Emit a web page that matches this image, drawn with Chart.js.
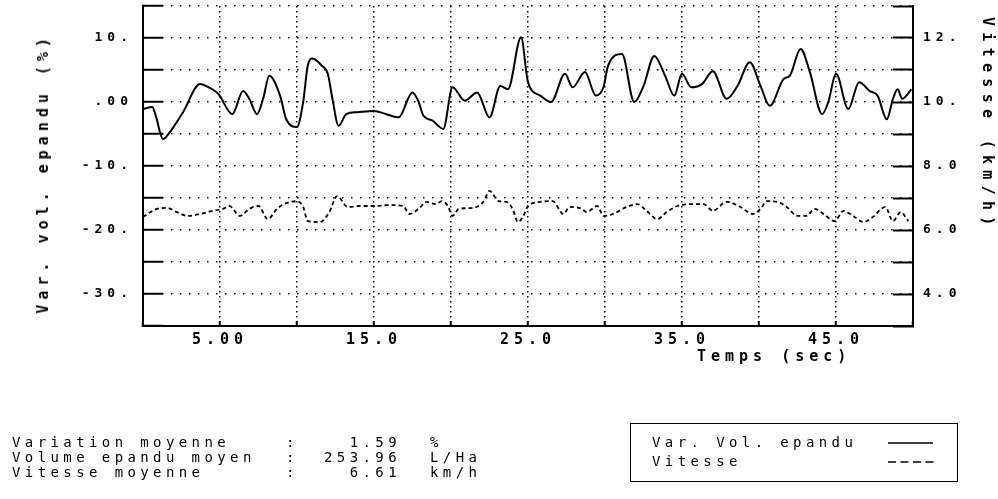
<!DOCTYPE html>
<html>
<head>
<meta charset="utf-8">
<script src="https://cdn.jsdelivr.net/npm/chart.js@4/dist/chart.umd.min.js"></script>
<style>
  html, body { margin: 0; padding: 0; background: #fff; }
  #wrap { position: relative; width: 998px; height: 499px; background: #fff; overflow: hidden; }
  #c { position: absolute; left: 0; top: 0; }
  .t { position: absolute; font-family: "DejaVu Sans Mono", monospace; color: #000; white-space: pre; }
  .stat { font-size: 14px; line-height: 15px; letter-spacing: 4.4px; }
  .ttl { font-size: 15px; font-weight: bold; line-height: 18px; letter-spacing: 5px; }
  #legend { position: absolute; left: 630px; top: 423px; width: 326px; height: 57px; border: 1.5px solid #000; }
</style>
</head>
<body>
<div id="wrap">
  <canvas id="c" width="998" height="499"></canvas>
  <div class="t ttl" style="left:697px; top:347px;">Temps (sec)</div>
  <div class="t ttl" style="left:979px; top:17px; writing-mode: vertical-rl; letter-spacing:6.3px;">Vitesse (km/h)</div>
  <div class="t ttl" style="left:34px; top:33px; writing-mode: vertical-rl; transform: rotate(180deg);">Var. vol. epandu (%)</div>

  <div class="t stat" style="left:12px; top:435px;">Variation moyenne</div>
  <div class="t stat" style="left:12px; top:450px;">Volume epandu moyen</div>
  <div class="t stat" style="left:12px; top:465px;">Vitesse moyenne</div>
  <div class="t stat" style="left:286px; top:435px;">:</div>
  <div class="t stat" style="left:286px; top:450px;">:</div>
  <div class="t stat" style="left:286px; top:465px;">:</div>
  <div class="t stat" style="left:300px; width:101px; text-align:right; top:435px;">1.59</div>
  <div class="t stat" style="left:300px; width:101px; text-align:right; top:450px;">253.96</div>
  <div class="t stat" style="left:300px; width:101px; text-align:right; top:465px;">6.61</div>
  <div class="t stat" style="left:430px; top:435px;">%</div>
  <div class="t stat" style="left:430px; top:450px;">L/Ha</div>
  <div class="t stat" style="left:430px; top:465px;">km/h</div>

  <div id="legend"></div>
  <div class="t stat" style="left:652px; top:435px;">Var. Vol. epandu</div>
  <div class="t stat" style="left:652px; top:454px;">Vitesse</div>
  <svg style="position:absolute; left:0; top:0;" width="998" height="499">
    <line x1="888" y1="443" x2="933" y2="443" stroke="#000" stroke-width="1.5"/>
    <line x1="888" y1="462" x2="934" y2="462" stroke="#000" stroke-width="1.5" stroke-dasharray="8,4.5"/>
  </svg>
</div>
<script>
// ---- data ----
const timeVar = [0,0.6,0.8,1.3,1.75,2.6,3.7,4.1,4.9,5.8,6.5,6.9,7.4,7.8,8.2,8.9,9.3,10.0,10.4,10.7,11.0,11.6,12.0,12.3,12.7,13.2,13.9,15.0,15.8,16.6,17.5,17.9,18.2,18.8,19.5,20.1,20.9,21.7,22.5,23.2,23.7,24.55,25.0,25.8,26.5,27.4,27.9,28.7,29.4,29.9,30.2,31.1,31.9,32.5,33.2,33.9,34.5,35.0,35.6,36.3,37.0,37.9,38.6,39.4,40.1,40.7,41.6,42.0,42.7,43.3,44.1,44.5,45.0,45.8,46.5,47.2,47.7,48.3,48.7,49.0,49.3,49.9];
const varVol = [-1.1,-0.8,-1.9,-5.8,-4.7,-1.6,2.8,2.5,1.25,-1.9,1.7,0.5,-1.9,0.5,4.1,1.0,-2.7,-3.9,0,5.7,6.8,5.7,4.4,0.5,-3.7,-1.9,-1.6,-1.4,-1.9,-2.4,1.5,0,-2.1,-2.9,-4.2,2.3,0.2,1.5,-2.4,2.5,2.0,10.1,3.1,1.0,0,4.4,2.3,4.7,1.0,2.3,5.7,7.5,0,2.5,7.2,4.1,1.0,4.4,2.3,2.8,4.8,0.5,2.5,6.2,2.5,-0.6,3.6,4.1,8.3,4.7,-1.9,0,4.4,-1.1,3.1,1.7,1.0,-2.7,0.5,2.0,0.5,2.0];

const timeVit = [0,0.9,1.55,2.2,2.9,3.7,4.5,5.2,5.6,6.3,6.9,7.5,8.1,8.7,9.3,10.0,10.4,10.7,11.5,12.1,12.6,13.3,14.1,15.0,16.0,16.9,17.3,17.9,18.4,19.0,19.4,19.8,20.1,20.5,21.4,22.1,22.5,23.1,23.6,24.0,24.35,24.7,25.0,25.8,26.6,27.3,27.7,28.5,28.8,29.5,29.9,30.5,31.4,32.1,32.7,33.4,34.0,34.7,35.7,36.4,37.0,37.9,38.8,39.6,40.1,40.5,41.2,41.8,42.5,43.1,43.6,44.2,44.9,45.5,46.1,46.8,47.4,48.2,48.7,49.2,49.7];
const vitesse = [6.41,6.66,6.69,6.56,6.44,6.5,6.6,6.66,6.75,6.44,6.66,6.75,6.34,6.66,6.84,6.9,6.72,6.28,6.25,6.56,7.06,6.72,6.75,6.75,6.78,6.75,6.5,6.66,6.88,6.81,6.9,6.75,6.44,6.66,6.69,6.88,7.22,6.9,6.88,6.66,6.25,6.44,6.75,6.88,6.9,6.5,6.72,6.66,6.56,6.75,6.44,6.5,6.72,6.81,6.6,6.34,6.56,6.75,6.81,6.81,6.6,6.88,6.72,6.5,6.66,6.9,6.88,6.72,6.44,6.44,6.66,6.5,6.28,6.6,6.44,6.25,6.41,6.72,6.28,6.56,6.28];

const xTickValues = [5,15,25,35,45];
const xTickLabels = ['5.00','15.0','25.0','35.0','45.0'];
const yTickValues = [10,0,-10,-20,-30];
const yTickLabels = ['10.','.00','-10.','-20.','-30.'];
const y2TickValues = [12,10,8,6,4];
const y2TickLabels = ['12.','10.','8.0','6.0','4.0'];

function lookup(vals, labels, v) {
  for (let i = 0; i < vals.length; i++) if (Math.abs(vals[i] - v) < 1e-6) return labels[i];
  return '';
}

const monoBold = (size) => ({ family: '"DejaVu Sans Mono", monospace', size: size, weight: 'bold', lineHeight: 1 });

const letterSpacingPlugin = {
  id: 'letterSpacing',
  beforeDraw(chart) { try { chart.ctx.letterSpacing = '5px'; } catch (e) {} }
};

function noPad(s) { s.paddingTop = 0; s.paddingBottom = 0; s.paddingLeft = 0; s.paddingRight = 0; }

new Chart(document.getElementById('c').getContext('2d'), {
  type: 'line',
  data: {
    datasets: [
      {
        label: 'Var. Vol. epandu',
        data: timeVar.map((t, i) => ({ x: t, y: varVol[i] })),
        yAxisID: 'y',
        borderColor: '#000',
        borderWidth: 2,
        pointRadius: 0,
        fill: false,
        cubicInterpolationMode: 'monotone'
      },
      {
        label: 'Vitesse',
        data: timeVit.map((t, i) => ({ x: t, y: vitesse[i] })),
        yAxisID: 'y2',
        borderColor: '#000',
        borderWidth: 1.8,
        borderDash: [4, 3],
        pointRadius: 0,
        fill: false,
        cubicInterpolationMode: 'monotone'
      }
    ]
  },
  options: {
    responsive: false,
    animation: false,
    devicePixelRatio: 1,
    layout: { padding: { left: 0, right: 0, top: 6, bottom: 123 } },
    plugins: { legend: { display: false }, tooltip: { enabled: false } },
    scales: {
      x: {
        type: 'linear', position: 'bottom', min: 0, max: 50,
        ticks: {
          stepSize: 5, autoSkip: false, maxRotation: 0, minRotation: 0, padding: 12,
          color: '#000', font: monoBold(15),
          callback: (v) => lookup(xTickValues, xTickLabels, v)
        },
        grid: { color: '#000', lineWidth: 1.5, tickLength: -5, tickWidth: 2, tickColor: '#000' },
        border: { color: '#000', width: 2, dash: [1.5, 3.5] },
        afterFit(s) { s.height = 50; noPad(s); }
      },
      y: {
        type: 'linear', position: 'left', min: -35, max: 15,
        ticks: {
          stepSize: 5, autoSkip: false, padding: 30,
          color: '#000', font: monoBold(13),
          callback: (v) => lookup(yTickValues, yTickLabels, v)
        },
        grid: { color: '#000', lineWidth: 1.5, tickLength: -20, tickWidth: 2, tickColor: '#000' },
        border: { color: '#000', width: 2, dash: [1.5, 7.5] },
        afterFit(s) { s.width = 143; noPad(s); }
      },
      y2: {
        type: 'linear', position: 'right', min: 3, max: 13,
        ticks: {
          stepSize: 1, autoSkip: false, padding: 30,
          color: '#000', font: monoBold(13),
          callback: (v) => lookup(y2TickValues, y2TickLabels, v)
        },
        grid: { drawOnChartArea: false, color: '#000', tickLength: -20, tickWidth: 2, tickColor: '#000' },
        border: { color: '#000', width: 2 },
        afterFit(s) { s.width = 85; noPad(s); }
      }
    }
  },
  plugins: [letterSpacingPlugin]
});
</script>
</body>
</html>
